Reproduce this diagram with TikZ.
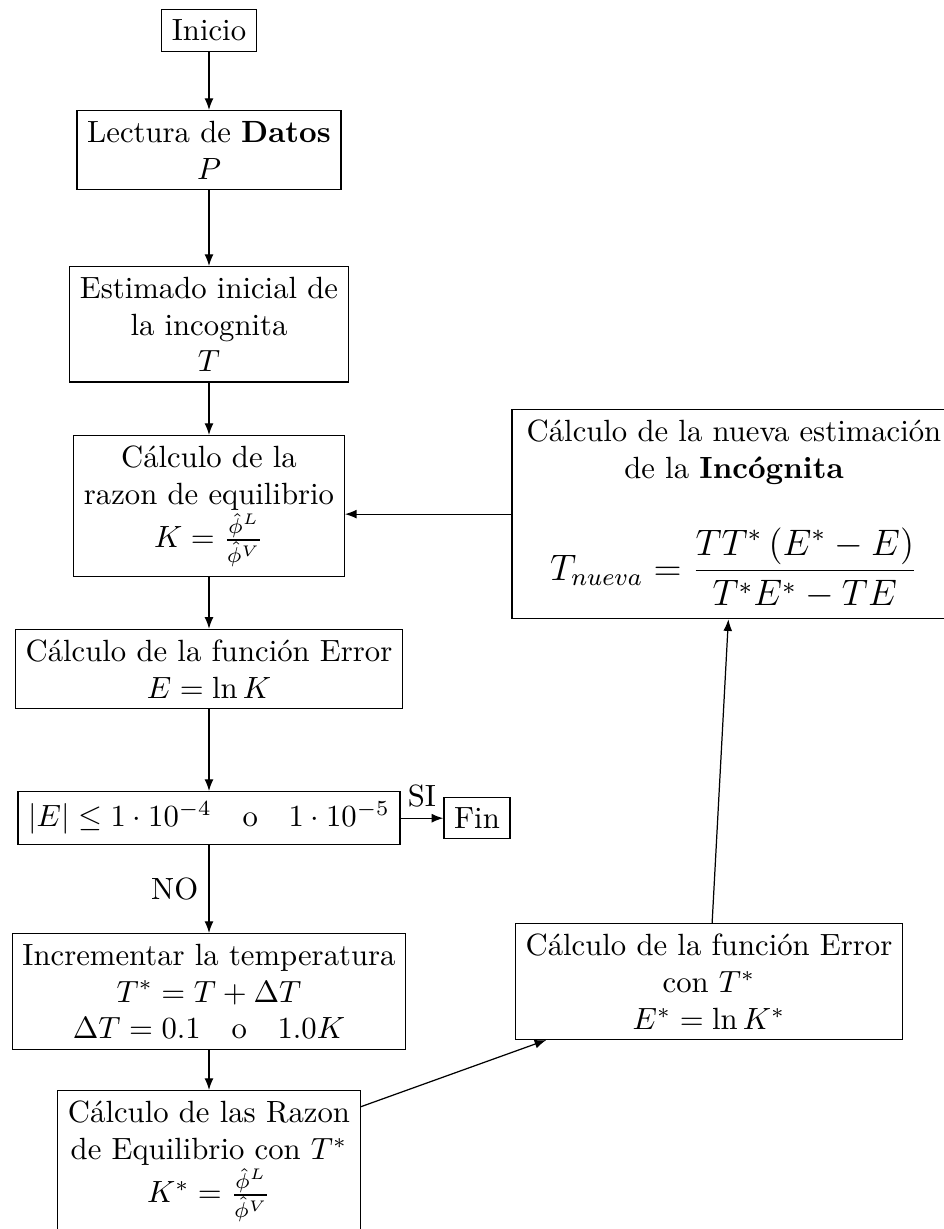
\documentclass[tikz,border=0pt]{standalone}
\usetikzlibrary{arrows.meta}
\begin{document}
\begin{tikzpicture}[x=0.3257pt,y=-0.3257pt,
  box/.style={draw, align=center, line width=0.4pt},
  conn/.style={-{Latex[length=3.8pt,width=2.9pt]}, line width=0.4pt}]
\useasboundingbox (0,0) rectangle (944,1229);
\node[box, anchor=north] (inicio) at (209,9) {Inicio};
\node[box, anchor=north] (datos) at (209,110) {Lectura de \textbf{Datos}\\ $P$};
\node[box, anchor=north] (estim) at (209,266) {Estimado inicial de\\ la incognita\\ $T$};
\node[box, anchor=north] (razon) at (209,435) {Cálculo de la\\ razon de equilibrio\\ $K=\frac{\hat{\phi}^L}{\hat{\phi}^V}$};
\node[box, anchor=south] (ferr) at (209,709) {Cálculo de la función Error\\ $E=\ln K$};
\node[box, anchor=north] (test) at (209,791) {$|E|\leq 1\cdot 10^{-4}$\quad o\quad $1\cdot 10^{-5}$};
\node[box] (fin) at (477,0 |- test) {Fin};
\node[box, anchor=north] (incr) at (209,933) {Incrementar la temperatura\\ $T^*=T+\Delta T$\\ $\Delta T=0.1$\quad o\quad $1.0K$};
\node[box, anchor=north] (razon2) at (209,1090) {Cálculo de las Razon\\ de Equilibrio con $T^*$\\ $K^*=\frac{\hat{\phi}^L}{\hat{\phi}^V}$};
\node[box, anchor=north] (ferr2) at (709,923) {Cálculo de la función Error\\ con $T^*$\\ $E^*=\ln K^*$};
\node[box, anchor=north, text width=138pt, align=flush center] (nueva) at (734,409) {Cálculo de la nueva estimación\\ de la \textbf{Incógnita}\\[13pt] \mbox{\large$\displaystyle T_{nueva}=\frac{TT^*\left(E^*-E\right)}{T^*E^*-TE}$}};
\draw[conn] (inicio) -- (datos);
\draw[conn] (datos) -- (estim);
\draw[conn] (estim) -- (razon);
\draw[conn] (razon) -- (ferr);
\draw[conn] (ferr) -- (test);
\draw[conn] (test) -- node[above]{SI} (fin);
\draw[conn] (test) -- node[left]{NO} (incr);
\draw[conn] (incr) -- (razon2);
\draw[conn] (razon2) -- (ferr2);
\draw[conn] (ferr2) -- (nueva);
\draw[conn] (nueva.west) -- (nueva.west -| razon.east);
\end{tikzpicture}
\end{document}
